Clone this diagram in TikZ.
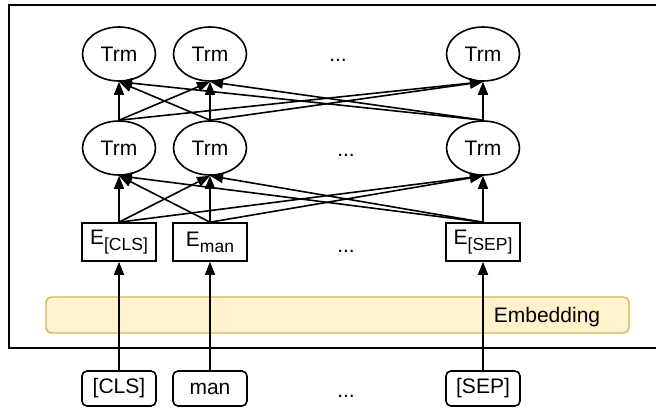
\documentclass[tikz,border=0pt]{standalone}
\usepackage{fontspec}
\setmainfont{Liberation Sans}
\usetikzlibrary{shapes.geometric}
\usetikzlibrary{arrows.meta}
\newcommand{\lowtext}[1]{\raisebox{-6pt}{\fontsize{17.5}{20}\selectfont #1}}

\begin{document}
\begin{tikzpicture}[x=1pt,y=-1pt,
    every node/.style={font=\fontsize{21}{25}\selectfont},
    trm_node/.style={draw,ellipse,line width=1.6pt,minimum width=73pt,minimum height=54pt,inner sep=0},
    emb_box/.style={draw,line width=1.6pt,minimum width=74pt,minimum height=38pt,inner sep=0},
    tok_box/.style={draw,rounded corners=5pt,line width=1.6pt,minimum width=74pt,minimum height=35pt,inner sep=0},
    dots_text/.style={anchor=base,inner sep=0},
    conn/.style={line width=1.6pt,-{Triangle[length=13pt,width=10pt]}}]
    \definecolor{band_fill}{HTML}{FFF2CC}
    \definecolor{band_line}{HTML}{D6B656}
    \useasboundingbox (0,0) rectangle (656,407);
    \clip (0,0) rectangle (656,407);

    \draw[line width=1.6pt] (9,5) rectangle (700,348);
    \draw[band_line,fill=band_fill,line width=1.4pt,rounded corners=6pt] (46,297) rectangle (629,333);
    \node[inner sep=0] (emb_text) at (547,317.5) {Embedding};

    \node[trm_node] (trm_top_1) at (119,54) {Trm};
    \node[trm_node] (trm_top_2) at (210,54) {Trm};
    \node[trm_node] (trm_top_3) at (483,54) {Trm};
    \node[dots_text] (dots_top) at (338,61) {...};

    \node[trm_node] (trm_mid_1) at (119,148) {Trm};
    \node[trm_node] (trm_mid_2) at (210,148) {Trm};
    \node[trm_node] (trm_mid_3) at (483,148) {Trm};
    \node[dots_text] (dots_mid) at (346,156) {...};

    \node[emb_box] (e_cls) at (119,242) {E\lowtext{[CLS]}};
    \node[emb_box] (e_man) at (210,242) {E\lowtext{man}};
    \node[emb_box] (e_sep) at (483,242) {E\lowtext{[SEP]}};
    \node[dots_text] (dots_emb) at (346,252) {...};

    \node[tok_box] (tok_cls) at (119,388.5) {[CLS]};
    \node[tok_box] (tok_man) at (210,388.5) {man};
    \node[tok_box] (tok_sep) at (483,388.5) {[SEP]};
    \node[dots_text] (dots_tok) at (346,397) {...};

    \draw[conn] (tok_cls.north) -- (e_cls.south);
    \draw[conn] (tok_man.north) -- (e_man.south);
    \draw[conn] (tok_sep.north) -- (e_sep.south);

    \draw[conn] (e_cls.north) -- (trm_mid_1.south);
    \draw[conn] (e_cls.north) -- (trm_mid_2.south);
    \draw[conn] (e_cls.north) -- (trm_mid_3.south);
    \draw[conn] (e_man.north) -- (trm_mid_1.south);
    \draw[conn] (e_man.north) -- (trm_mid_2.south);
    \draw[conn] (e_man.north) -- (trm_mid_3.south);
    \draw[conn] (e_sep.north) -- (trm_mid_1.south);
    \draw[conn] (e_sep.north) -- (trm_mid_2.south);
    \draw[conn] (e_sep.north) -- (trm_mid_3.south);

    \draw[conn] (trm_mid_1.north) -- (trm_top_1.south);
    \draw[conn] (trm_mid_1.north) -- (trm_top_2.south);
    \draw[conn] (trm_mid_1.north) -- (trm_top_3.south);
    \draw[conn] (trm_mid_2.north) -- (trm_top_1.south);
    \draw[conn] (trm_mid_2.north) -- (trm_top_2.south);
    \draw[conn] (trm_mid_2.north) -- (trm_top_3.south);
    \draw[conn] (trm_mid_3.north) -- (trm_top_1.south);
    \draw[conn] (trm_mid_3.north) -- (trm_top_2.south);
    \draw[conn] (trm_mid_3.north) -- (trm_top_3.south);

  \end{tikzpicture}
\end{document}
